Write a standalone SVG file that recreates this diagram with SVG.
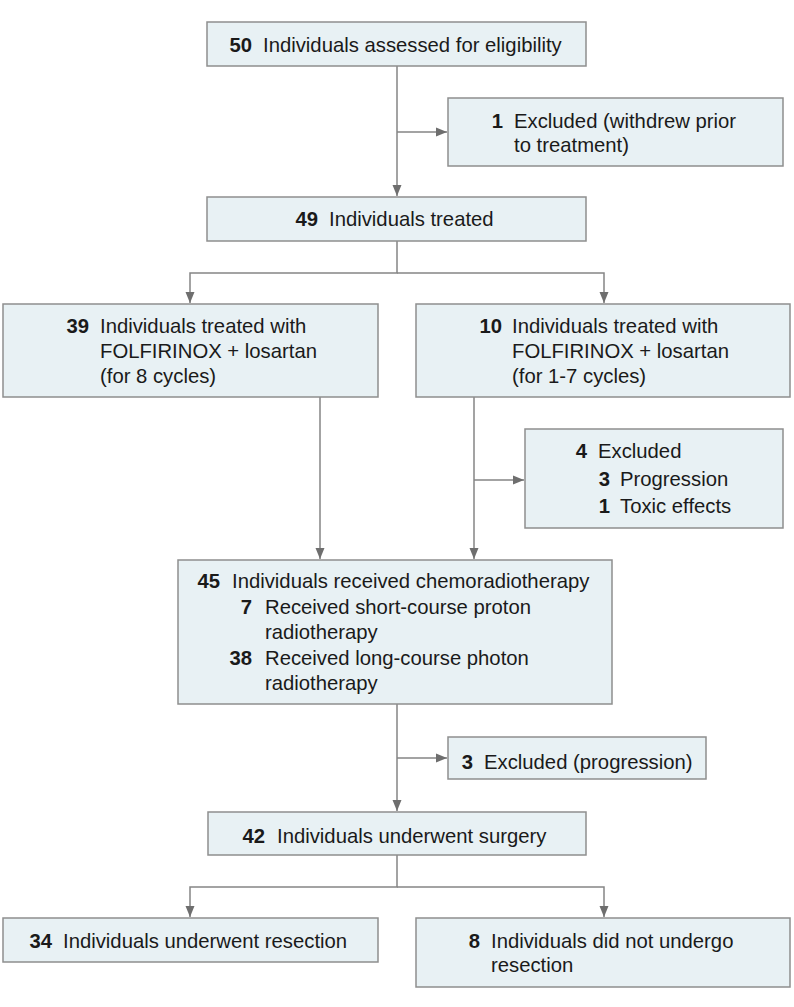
<svg xmlns="http://www.w3.org/2000/svg" width="794" height="1007" viewBox="0 0 794 1007">
<style>
.box{fill:#e8f1f4;stroke:#8e8e8e;stroke-width:1.5}
.t{font-family:"Liberation Sans",Arial,sans-serif;font-size:20.3px;fill:#1a1a1a}
.n{font-family:"Liberation Sans",Arial,sans-serif;font-size:20.3px;font-weight:bold;fill:#1a1a1a;text-anchor:end}
.ln{fill:none;stroke:#858585;stroke-width:1.5}
</style>
<defs>
<marker id="ah" markerUnits="userSpaceOnUse" markerWidth="12" markerHeight="10" refX="11" refY="5" orient="auto">
<path d="M0,0.5 L11,5 L0,9.5 z" fill="#6e6e6e"/>
</marker>
</defs>
<rect width="794" height="1007" fill="#ffffff"/>
<g id="connectors">
<path class="ln" d="M397,66 V196" marker-end="url(#ah)"/>
<path class="ln" d="M397,132 H447" marker-end="url(#ah)"/>
<path class="ln" d="M397,241 V273 H190 V303" marker-end="url(#ah)"/>
<path class="ln" d="M397,273 H604 V303" marker-end="url(#ah)"/>
<path class="ln" d="M320,397 V559" marker-end="url(#ah)"/>
<path class="ln" d="M474,397 V559" marker-end="url(#ah)"/>
<path class="ln" d="M474,480 H524" marker-end="url(#ah)"/>
<path class="ln" d="M397,704 V811" marker-end="url(#ah)"/>
<path class="ln" d="M397,758 H447" marker-end="url(#ah)"/>
<path class="ln" d="M397,855 V887 H190 V917" marker-end="url(#ah)"/>
<path class="ln" d="M397,887 H604 V917" marker-end="url(#ah)"/>
</g>
<g id="assessed">
<rect class="box" x="207" y="22" width="379" height="44"/>
<text class="n" x="252" y="52">50</text>
<text class="t" x="263" y="52">Individuals assessed for eligibility</text>
</g>
<g id="excluded1">
<rect class="box" x="448" y="98" width="335" height="68"/>
<text class="n" x="503" y="128">1</text>
<text class="t" x="514" y="128">Excluded (withdrew prior</text>
<text class="t" x="514" y="152">to treatment)</text>
</g>
<g id="treated">
<rect class="box" x="207" y="197" width="379" height="44"/>
<text class="n" x="318" y="226">49</text>
<text class="t" x="329" y="226">Individuals treated</text>
</g>
<g id="eightcycles">
<rect class="box" x="3" y="304" width="375" height="93"/>
<text class="n" x="89" y="333">39</text>
<text class="t" x="100" y="333">Individuals treated with</text>
<text class="t" x="100" y="358">FOLFIRINOX + losartan</text>
<text class="t" x="100" y="383">(for 8 cycles)</text>
</g>
<g id="sevencycles">
<rect class="box" x="416" y="304" width="374" height="93"/>
<text class="n" x="502" y="333">10</text>
<text class="t" x="512" y="333">Individuals treated with</text>
<text class="t" x="512" y="358">FOLFIRINOX + losartan</text>
<text class="t" x="512" y="383">(for 1-7 cycles)</text>
</g>
<g id="excluded4">
<rect class="box" x="525" y="429" width="258" height="99"/>
<text class="n" x="587" y="458">4</text>
<text class="t" x="598" y="458">Excluded</text>
<text class="n" x="610" y="486">3</text>
<text class="t" x="620" y="486">Progression</text>
<text class="n" x="610" y="513">1</text>
<text class="t" x="620" y="513">Toxic effects</text>
</g>
<g id="chemoradiotherapy">
<rect class="box" x="178" y="560" width="434" height="144"/>
<text class="n" x="220" y="588">45</text>
<text class="t" x="232" y="588">Individuals received chemoradiotherapy</text>
<text class="n" x="252" y="614">7</text>
<text class="t" x="265" y="614">Received short-course proton</text>
<text class="t" x="265" y="639">radiotherapy</text>
<text class="n" x="252" y="665">38</text>
<text class="t" x="265" y="665">Received long-course photon</text>
<text class="t" x="265" y="690">radiotherapy</text>
</g>
<g id="excluded3">
<rect class="box" x="448" y="737" width="258" height="42"/>
<text class="n" x="473" y="769">3</text>
<text class="t" x="484" y="769">Excluded (progression)</text>
</g>
<g id="surgery">
<rect class="box" x="208" y="812" width="378" height="43"/>
<text class="n" x="265" y="843">42</text>
<text class="t" x="277" y="843">Individuals underwent surgery</text>
</g>
<g id="resection">
<rect class="box" x="3" y="918" width="375" height="44"/>
<text class="n" x="52" y="948">34</text>
<text class="t" x="63" y="948">Individuals underwent resection</text>
</g>
<g id="noresection">
<rect class="box" x="416" y="918" width="374" height="69"/>
<text class="n" x="480" y="948">8</text>
<text class="t" x="491" y="948">Individuals did not undergo</text>
<text class="t" x="491" y="972">resection</text>
</g>
</svg>
